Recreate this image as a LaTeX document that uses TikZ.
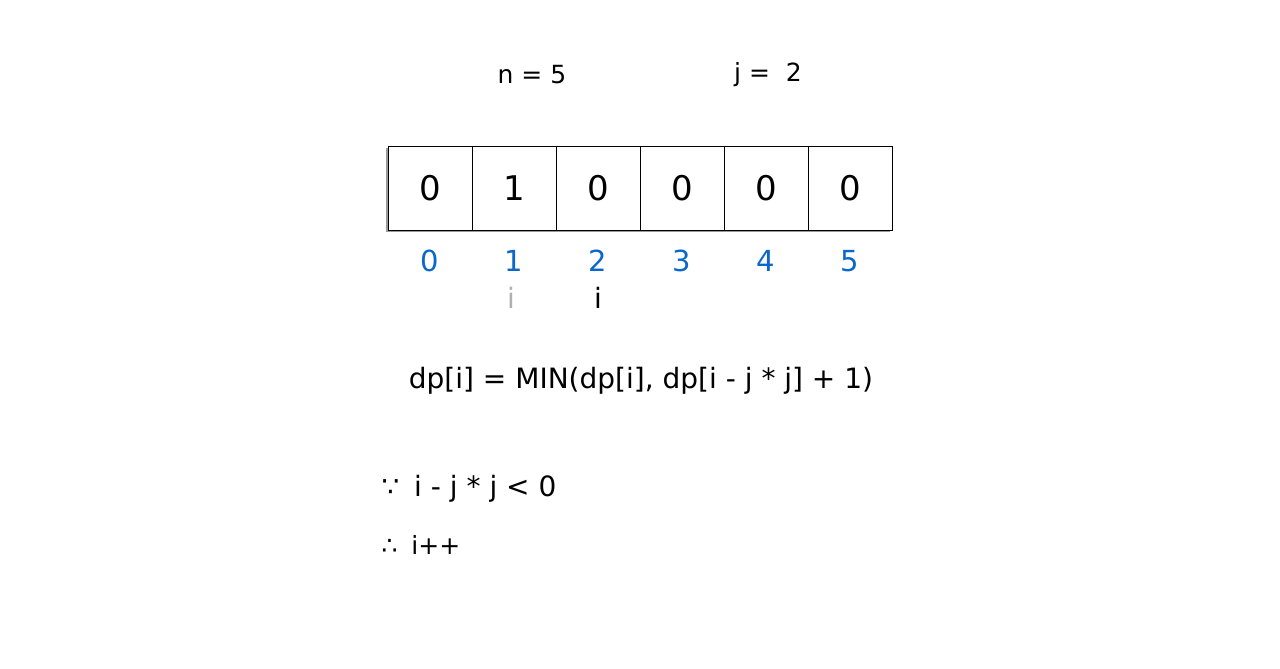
\documentclass[tikz,border=0pt]{standalone}
\usepackage{fontspec}
\setmainfont{DejaVu Sans}
\definecolor{idxblue}{HTML}{0A68CC}
\definecolor{shadowgray}{HTML}{9A9A9A}
\definecolor{ghost}{HTML}{B0B0B0}
\begin{document}
\begin{tikzpicture}[x=1pt,y=-1pt,
  cell/.style={draw=black,line width=0.8pt,fill=white,minimum width=84pt,minimum height=84pt,inner sep=0pt,font=\fontsize{34}{34}\selectfont},
  shade/.style={fill=shadowgray,draw=none,minimum width=84pt,minimum height=84pt,inner sep=0pt},
  idx/.style={text=idxblue,font=\fontsize{29}{29}\selectfont},
  top/.style={font=\fontsize{25}{25}\selectfont},
  lbl/.style={font=\fontsize{28}{28}\selectfont},
  ptr/.style={font=\fontsize{28}{28}\selectfont}]
\useasboundingbox (0,0) rectangle (1280,669);
\foreach \k in {0,...,5}{
  \node[shade] (s\k) at ({430+84*\k-2},{188+2}) {};
}
\foreach \k/\v in {0/0,1/1,2/0,3/0,4/0,5/0}{
  \node[cell] (c\k) at ({430+84*\k},188) {\v};
  \node[idx] (n\k) at ({430+84*\k},261) {\k};
}
\node[top] (nlab) at (532,75) {n = 5};
\node[top] (jlab) at (768,75) {j =\ \ 2};
\node[ptr,text=ghost] (iold) at (511,298) {i};
\node[ptr] (inew) at (598,298) {i};
\node[lbl] (formula) at (641,381) {dp[i] = MIN(dp[i], dp[i - j * j] + 1)};
\node[lbl,anchor=west] (because) at (378,489) {∵\hspace{6pt} i - j * j < 0};
\node[top,anchor=west] (therefore) at (378,545) {∴\hspace{6pt} i++};
\end{tikzpicture}
\end{document}
